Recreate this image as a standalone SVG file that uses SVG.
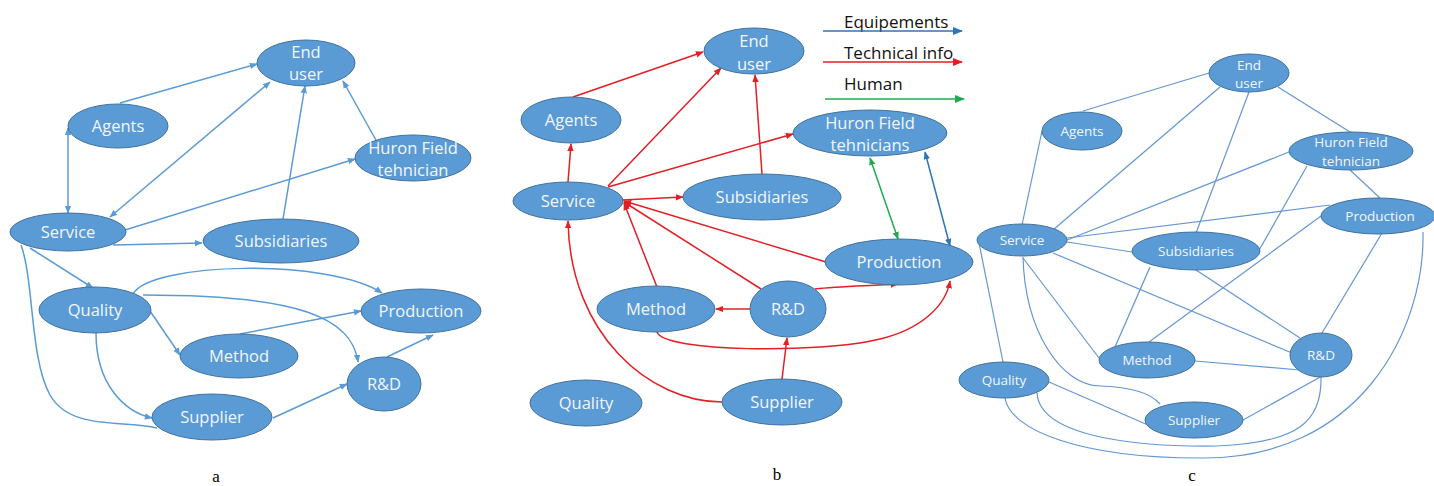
<svg xmlns="http://www.w3.org/2000/svg" width="1434" height="486" viewBox="0 0 1434 486">
<style>
.n ellipse{fill:#5b9bd5;stroke:#41719c;stroke-width:1}
.n text{font-family:"Open Sans","Liberation Sans",sans-serif;font-size:16.5px;fill:#f2f6fc;text-anchor:middle}
.c .n text{font-size:13.5px}
.ea{fill:none;stroke:#5b9bd5;stroke-width:1.5}
.er{fill:none;stroke:#e31e24;stroke-width:1.5}
.eg{fill:none;stroke:#1fab4f;stroke-width:1.5}
.eb{fill:none;stroke:#2e75b6;stroke-width:1.5}
.ec{fill:none;stroke:#6596d4;stroke-width:1.2}
.lbl{font-family:"Liberation Serif",serif;font-size:17px;fill:#000;text-anchor:middle}
.leg{font-family:"Open Sans","Liberation Sans",sans-serif;font-size:17px;fill:#111}
</style>
<defs>
<marker id="ma" viewBox="0 0 10 10" refX="9" refY="5" markerWidth="8" markerHeight="8" markerUnits="userSpaceOnUse" orient="auto-start-reverse"><path d="M0,1 L10,5 L0,9 z" fill="#5b9bd5"/></marker>
<marker id="mr" viewBox="0 0 10 10" refX="9" refY="5" markerWidth="8" markerHeight="8" markerUnits="userSpaceOnUse" orient="auto-start-reverse"><path d="M0,1 L10,5 L0,9 z" fill="#e31e24"/></marker>
<marker id="mg" viewBox="0 0 10 10" refX="9" refY="5" markerWidth="8" markerHeight="8" markerUnits="userSpaceOnUse" orient="auto-start-reverse"><path d="M0,1 L10,5 L0,9 z" fill="#1fab4f"/></marker>
<marker id="mb" viewBox="0 0 10 10" refX="9" refY="5" markerWidth="8" markerHeight="8" markerUnits="userSpaceOnUse" orient="auto-start-reverse"><path d="M0,1 L10,5 L0,9 z" fill="#2e75b6"/></marker>
<marker id="mrL" viewBox="0 0 10 10" refX="9" refY="5" markerWidth="10" markerHeight="10" markerUnits="userSpaceOnUse" orient="auto"><path d="M0,1 L10,5 L0,9 z" fill="#e31e24"/></marker>
<marker id="mgL" viewBox="0 0 10 10" refX="9" refY="5" markerWidth="10" markerHeight="10" markerUnits="userSpaceOnUse" orient="auto"><path d="M0,1 L10,5 L0,9 z" fill="#1fab4f"/></marker>
<marker id="mbL" viewBox="0 0 10 10" refX="9" refY="5" markerWidth="10" markerHeight="10" markerUnits="userSpaceOnUse" orient="auto"><path d="M0,1 L10,5 L0,9 z" fill="#2e75b6"/></marker>
</defs>
<rect width="1434" height="486" fill="#ffffff"/>

<!-- ============ Panel a ============ -->
<g id="panel-a">
<g id="a-connectors">
<path class="ea" d="M120,103 L257,64" marker-end="url(#ma)"/>
<path class="ea" d="M68,128 L68,213" marker-start="url(#ma)" marker-end="url(#ma)"/>
<path class="ea" d="M270,82 L110,217" marker-start="url(#ma)" marker-end="url(#ma)"/>
<path class="ea" d="M283,219 L305,86" marker-end="url(#ma)"/>
<path class="ea" d="M377,142 L343,81" marker-end="url(#ma)"/>
<path class="ea" d="M125,230 L355,159" marker-end="url(#ma)"/>
<path class="ea" d="M113,245 L202,243" marker-end="url(#ma)"/>
<path class="ea" d="M30,248 L93,288" marker-end="url(#ma)"/>
<path class="ea" d="M21,245 C34,280 30,360 50,395 C70,430 120,420 157,428"/>
<path class="ea" d="M96,333 C96,385 125,412 152,418" marker-end="url(#ma)"/>
<path class="ea" d="M150,311 L180,355" marker-end="url(#ma)"/>
<path class="ea" d="M133,294 C150,262 330,258 382,293" marker-end="url(#ma)"/>
<path class="ea" d="M143,295 C300,295 352,318 358,362" marker-end="url(#ma)"/>
<path class="ea" d="M240,334 L361,311" marker-end="url(#ma)"/>
<path class="ea" d="M387,357 L433,335" marker-end="url(#ma)"/>
<path class="ea" d="M273,418 L347,384" marker-end="url(#ma)"/>
</g>
<g id="a-enduser" class="n"><ellipse cx="306" cy="63" rx="49" ry="23"/><text x="306" y="58">End</text><text x="306" y="80">user</text></g>
<g id="a-agents" class="n"><ellipse cx="118" cy="126" rx="50" ry="22"/><text x="118" y="132">Agents</text></g>
<g id="a-huron" class="n"><ellipse cx="413" cy="158" rx="58" ry="23"/><text x="413" y="154">Huron Field</text><text x="413" y="176">tehnician</text></g>
<g id="a-service" class="n"><ellipse cx="68" cy="232" rx="58" ry="19"/><text x="68" y="238">Service</text></g>
<g id="a-subsidiaries" class="n"><ellipse cx="281" cy="241" rx="78" ry="22"/><text x="281" y="247">Subsidiaries</text></g>
<g id="a-quality" class="n"><ellipse cx="95" cy="310" rx="56" ry="23"/><text x="95" y="316">Quality</text></g>
<g id="a-production" class="n"><ellipse cx="421" cy="311" rx="60" ry="22"/><text x="421" y="317">Production</text></g>
<g id="a-method" class="n"><ellipse cx="239" cy="356" rx="59" ry="22"/><text x="239" y="362">Method</text></g>
<g id="a-rd" class="n"><ellipse cx="384" cy="384" rx="37" ry="27"/><text x="384" y="390">R&amp;D</text></g>
<g id="a-supplier" class="n"><ellipse cx="212" cy="417" rx="60" ry="23"/><text x="212" y="423">Supplier</text></g>
<text class="lbl" x="216" y="482">a</text>
</g>

<!-- ============ Panel b ============ -->
<g id="panel-b">
<g id="b-legend">
<text class="leg" x="844" y="28">Equipements</text>
<path class="eb" d="M823,31 L962,31" stroke-width="2.2" marker-end="url(#mbL)"/>
<text class="leg" x="844" y="59">Technical info</text>
<path class="er" d="M823,62 L962,62" stroke-width="2.5" marker-end="url(#mrL)"/>
<text class="leg" x="844" y="90">Human</text>
<path class="eg" d="M825,99 L964,99" stroke-width="2" marker-end="url(#mgL)"/>
</g>
<g id="b-connectors">
<path class="er" d="M573,97 L703,52" marker-end="url(#mr)"/>
<path class="er" d="M608,186 L721,68" marker-end="url(#mr)"/>
<path class="er" d="M762,174 L755,75" marker-end="url(#mr)"/>
<path class="er" d="M568,182 L571,144" marker-end="url(#mr)"/>
<path class="er" d="M608,187 L793,134" marker-end="url(#mr)"/>
<path class="er" d="M622,200 L683,197" marker-end="url(#mr)"/>
<path class="er" d="M657,287 L624,203" marker-end="url(#mr)"/>
<path class="er" d="M761,289 L624,202" marker-end="url(#mr)"/>
<path class="er" d="M826,262 L624,201" marker-end="url(#mr)"/>
<path class="er" d="M815,289 C840,286 870,286 898,284" marker-end="url(#mr)"/>
<path class="er" d="M751,309 L716,309" marker-end="url(#mr)"/>
<path class="er" d="M657,332 C663,352 820,354 880,339 C922,329 946,305 950,281" marker-end="url(#mr)"/>
<path class="er" d="M782,379 L787,338" marker-end="url(#mr)"/>
<path class="er" d="M722,402 C650,402 570,335 568,221" marker-end="url(#mr)"/>
<path class="eg" d="M870,158 L898,239" marker-start="url(#mg)" marker-end="url(#mg)"/>
<path class="eb" d="M925,152 L950,246" marker-start="url(#mb)" marker-end="url(#mb)"/>
</g>
<g id="b-enduser" class="n"><ellipse cx="754" cy="51" rx="50" ry="23"/><text x="754" y="47">End</text><text x="754" y="70">user</text></g>
<g id="b-agents" class="n"><ellipse cx="571" cy="120" rx="50" ry="23"/><text x="571" y="126">Agents</text></g>
<g id="b-huron" class="n"><ellipse cx="870" cy="133" rx="77" ry="23"/><text x="870" y="129">Huron Field</text><text x="870" y="151">tehnicians</text></g>
<g id="b-service" class="n"><ellipse cx="568" cy="201" rx="55" ry="19"/><text x="568" y="207">Service</text></g>
<g id="b-subsidiaries" class="n"><ellipse cx="762" cy="197" rx="79" ry="23"/><text x="762" y="203">Subsidiaries</text></g>
<g id="b-production" class="n"><ellipse cx="899" cy="262" rx="74" ry="23"/><text x="899" y="268">Production</text></g>
<g id="b-method" class="n"><ellipse cx="656" cy="309" rx="59" ry="23"/><text x="656" y="315">Method</text></g>
<g id="b-rd" class="n"><ellipse cx="788" cy="309" rx="38" ry="28"/><text x="788" y="315">R&amp;D</text></g>
<g id="b-quality" class="n"><ellipse cx="586" cy="403" rx="56" ry="23"/><text x="586" y="409">Quality</text></g>
<g id="b-supplier" class="n"><ellipse cx="782" cy="402" rx="60" ry="23"/><text x="782" y="408">Supplier</text></g>
<text class="lbl" x="777" y="480">b</text>
</g>

<!-- ============ Panel c ============ -->
<g id="panel-c" class="c">
<g id="c-connectors">
<path class="ec" d="M1083,111 L1209,73"/>
<path class="ec" d="M1042,131 L1022,225"/>
<path class="ec" d="M1220,87 L1053,230"/>
<path class="ec" d="M1249,92 L1196,233"/>
<path class="ec" d="M1278,87 L1350,132"/>
<path class="ec" d="M1289,152 L1067,240"/>
<path class="ec" d="M1307,166 L1258,252"/>
<path class="ec" d="M1350,170 L1380,198"/>
<path class="ec" d="M1330,205 L1067,238"/>
<path class="ec" d="M1321,216 L1149,342"/>
<path class="ec" d="M1382,233 L1322,333"/>
<path class="ec" d="M1423,232 C1425,330 1360,460 1200,458 C1080,458 1010,430 1005,398"/>
<path class="ec" d="M1067,242 L1132,252"/>
<path class="ec" d="M1053,253 L1292,353"/>
<path class="ec" d="M1196,270 L1300,338"/>
<path class="ec" d="M1150,267 L1115,347"/>
<path class="ec" d="M1023,258 L1099,358"/>
<path class="ec" d="M1023,257 C1025,330 1060,385 1100,386 C1130,387 1150,392 1160,404"/>
<path class="ec" d="M979,243 L1003,362"/>
<path class="ec" d="M1195,361 L1300,370"/>
<path class="ec" d="M1049,382 L1148,425"/>
<path class="ec" d="M1243,420 L1322,376"/>
<path class="ec" d="M1037,393 C1040,440 1150,447 1217,446 C1300,443 1322,420 1321,377"/>
</g>
<g id="c-enduser" class="n"><ellipse cx="1249" cy="73" rx="40" ry="19"/><text x="1249" y="70">End</text><text x="1249" y="88">user</text></g>
<g id="c-agents" class="n"><ellipse cx="1082" cy="131" rx="40" ry="19"/><text x="1082" y="136">Agents</text></g>
<g id="c-huron" class="n"><ellipse cx="1351" cy="151" rx="62" ry="19"/><text x="1351" y="147">Huron Field</text><text x="1351" y="166">tehnician</text></g>
<g id="c-production" class="n"><ellipse cx="1378" cy="216" rx="57" ry="18"/><text x="1380" y="221">Production</text></g>
<g id="c-service" class="n"><ellipse cx="1022" cy="240" rx="45" ry="16"/><text x="1022" y="245">Service</text></g>
<g id="c-subsidiaries" class="n"><ellipse cx="1196" cy="251" rx="64" ry="19"/><text x="1196" y="256">Subsidiaries</text></g>
<g id="c-method" class="n"><ellipse cx="1147" cy="360" rx="48" ry="18"/><text x="1147" y="365">Method</text></g>
<g id="c-rd" class="n"><ellipse cx="1321" cy="355" rx="31" ry="22"/><text x="1321" y="360">R&amp;D</text></g>
<g id="c-quality" class="n"><ellipse cx="1004" cy="380" rx="45" ry="18"/><text x="1004" y="385">Quality</text></g>
<g id="c-supplier" class="n"><ellipse cx="1194" cy="420" rx="49" ry="18"/><text x="1194" y="425">Supplier</text></g>
<text class="lbl" x="1192" y="481">c</text>
</g>
</svg>
